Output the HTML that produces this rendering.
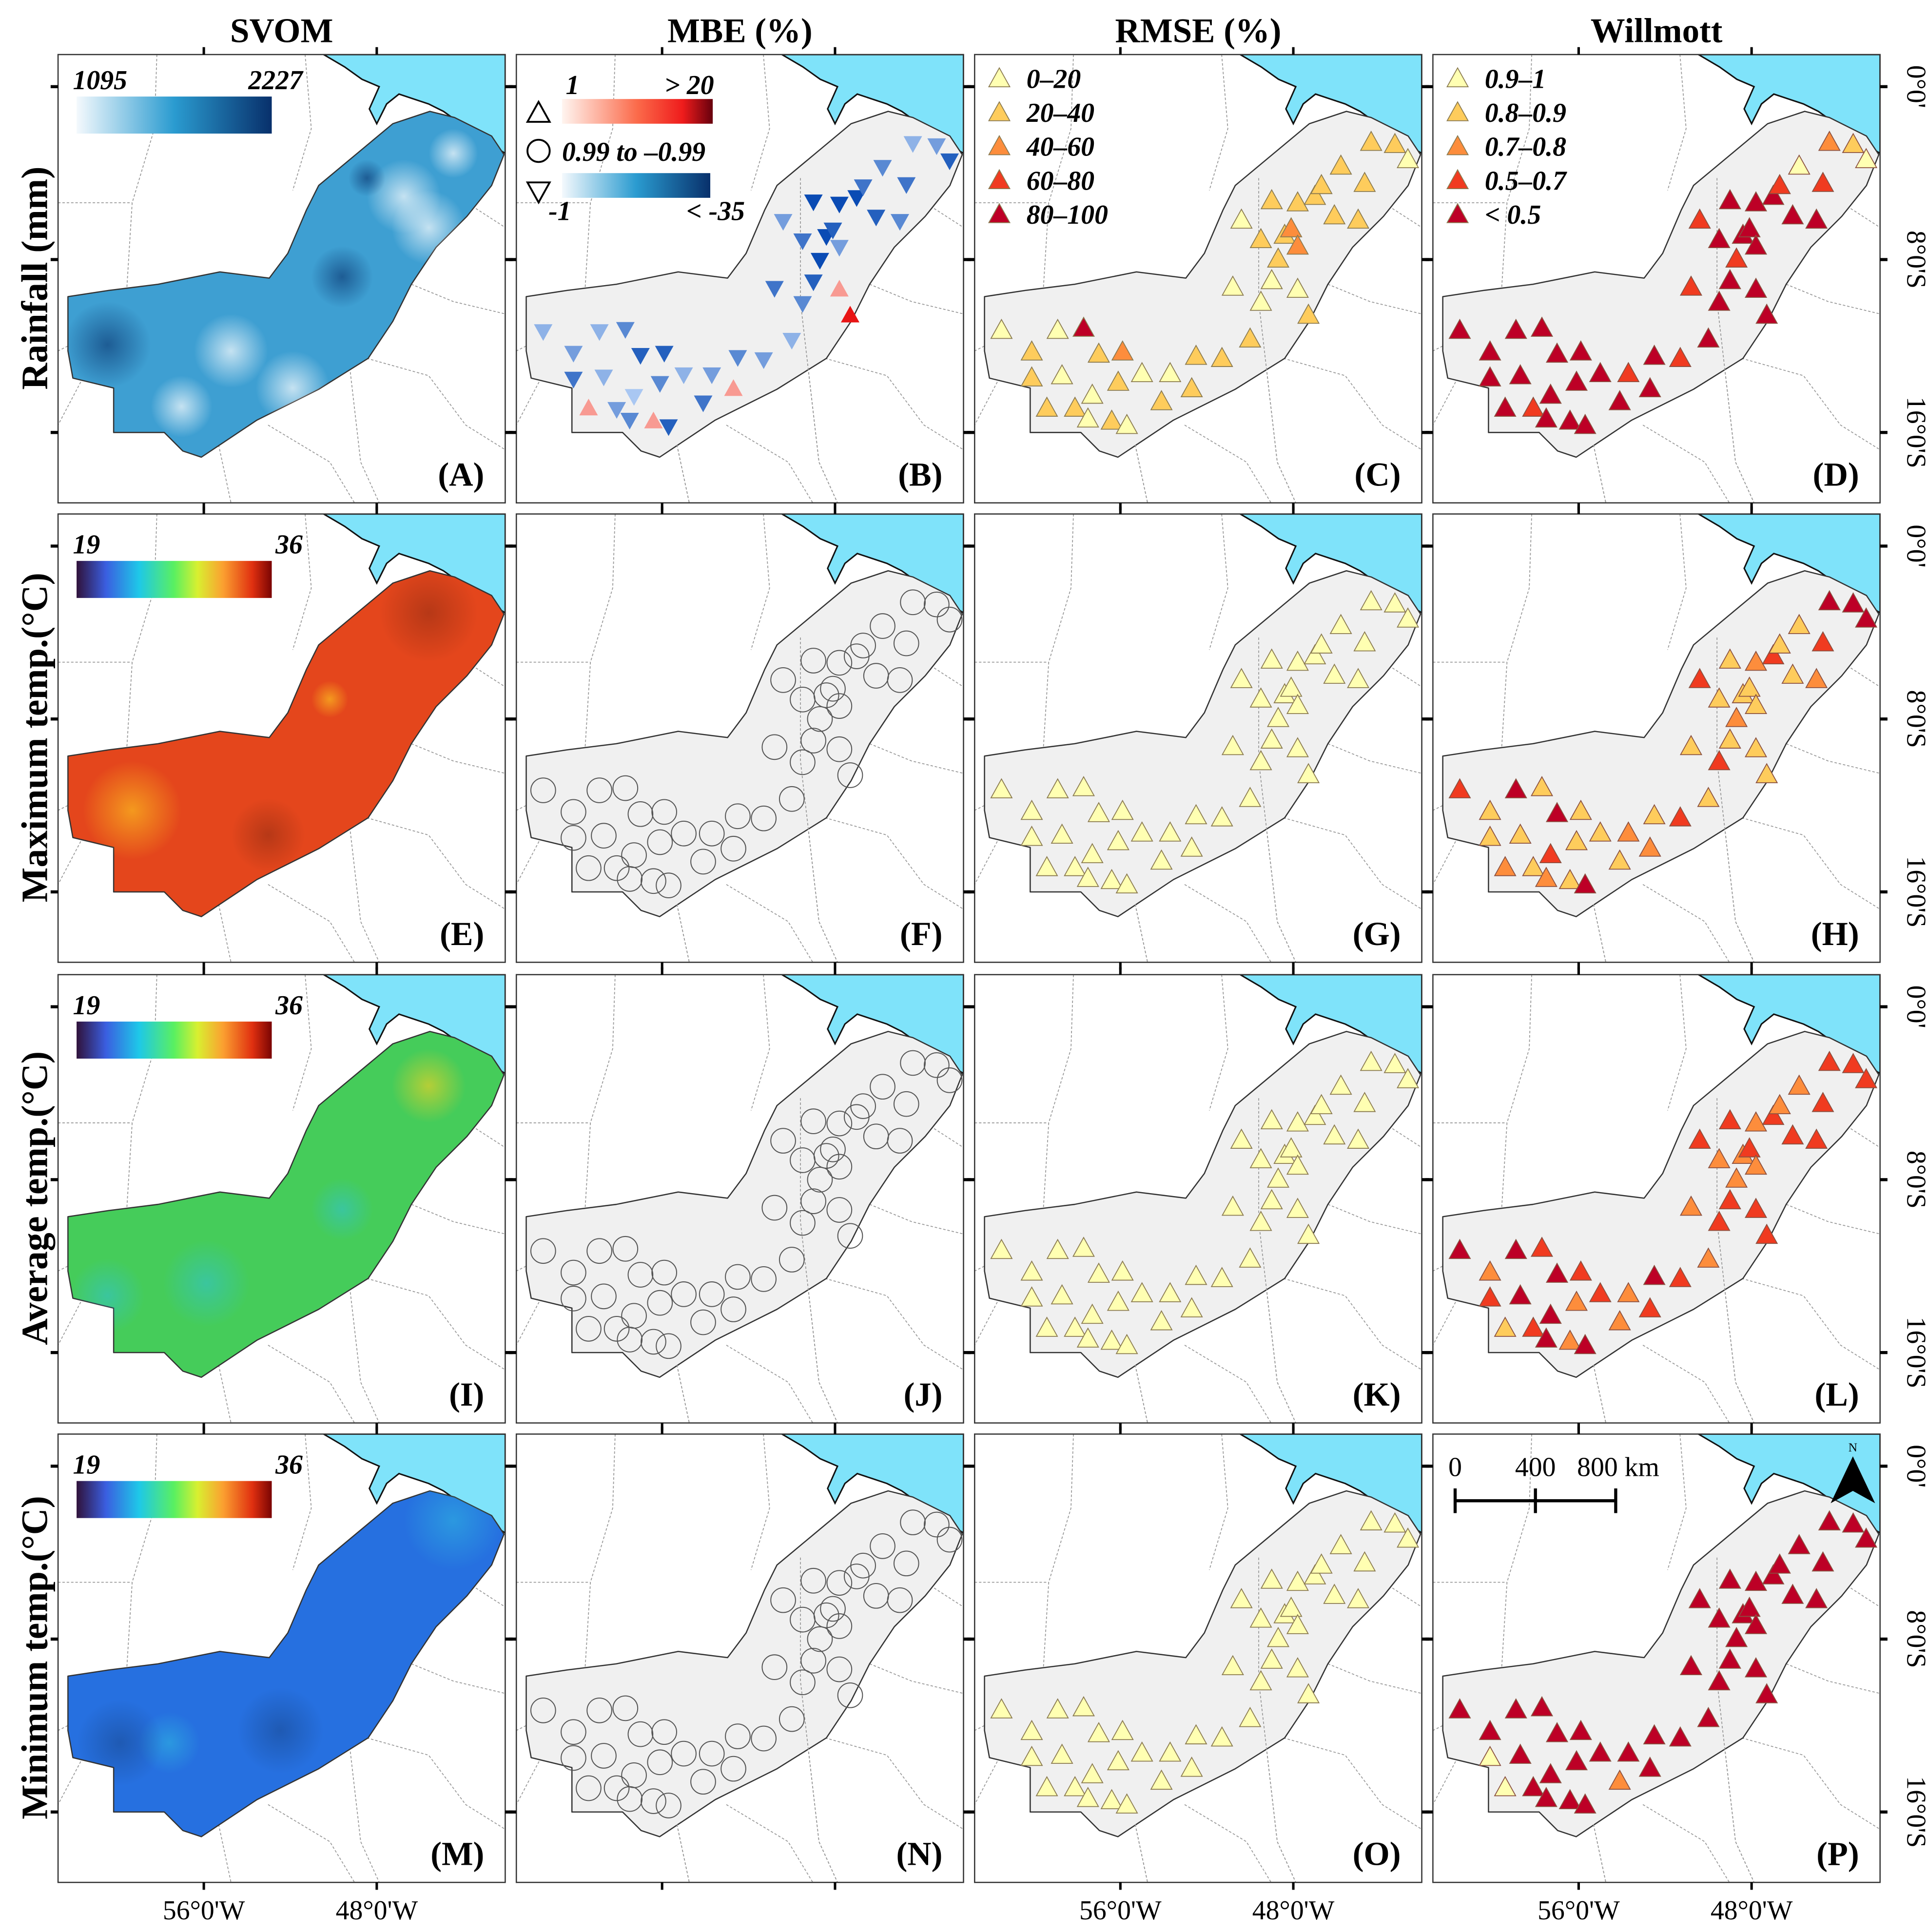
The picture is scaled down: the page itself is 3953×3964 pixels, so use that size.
<!DOCTYPE html>
<html><head><meta charset="utf-8">
<style>
html,body{margin:0;padding:0;background:#fff;}
svg{display:block;font-family:"Liberation Serif",serif;}
</style></head>
<body>
<svg id="fig" xmlns="http://www.w3.org/2000/svg" width="3953" height="3964" viewBox="0 0 1560 1564">
<defs>
<linearGradient id="gRain" x1="0" x2="1"><stop offset="0" stop-color="#f4f9fd"/><stop offset="0.5" stop-color="#2a9bd0"/><stop offset="1" stop-color="#08306b"/></linearGradient>
<linearGradient id="gRed" x1="0" x2="1"><stop offset="0" stop-color="#fff5f0"/><stop offset="0.5" stop-color="#fb6a4a"/><stop offset="0.8" stop-color="#ef1c1c"/><stop offset="1" stop-color="#67000d"/></linearGradient>
<linearGradient id="gBlue" x1="0" x2="1"><stop offset="0" stop-color="#f4f9fd"/><stop offset="0.5" stop-color="#2a9bd0"/><stop offset="1" stop-color="#08306b"/></linearGradient>
<linearGradient id="gJet" x1="0" x2="1"><stop offset="0" stop-color="#30123b"/><stop offset="0.15" stop-color="#3a5ee0"/><stop offset="0.32" stop-color="#1ec8e8"/><stop offset="0.5" stop-color="#5af060"/><stop offset="0.62" stop-color="#d8f030"/><stop offset="0.75" stop-color="#fba030"/><stop offset="0.9" stop-color="#e03010"/><stop offset="1" stop-color="#7a0403"/></linearGradient>
<radialGradient id="blobW"><stop offset="0" stop-color="#fff" stop-opacity="0.7"/><stop offset="1" stop-color="#fff" stop-opacity="0"/></radialGradient>
<radialGradient id="blobD"><stop offset="0" stop-color="#08306b" stop-opacity="0.6"/><stop offset="1" stop-color="#08306b" stop-opacity="0"/></radialGradient>
<radialGradient id="blobDark"><stop offset="0" stop-color="#000" stop-opacity="0.2"/><stop offset="1" stop-color="#000" stop-opacity="0"/></radialGradient>
<radialGradient id="blobY"><stop offset="0" stop-color="#ffd020" stop-opacity="0.6"/><stop offset="1" stop-color="#ffd020" stop-opacity="0"/></radialGradient>
<radialGradient id="blobC"><stop offset="0" stop-color="#30c0e0" stop-opacity="0.5"/><stop offset="1" stop-color="#30c0e0" stop-opacity="0"/></radialGradient>
<clipPath id="panelClip"><rect x="0" y="0" width="362" height="363"/></clipPath>
</defs>
<g id="root"></g>
</svg>
<script>
// ---- data ----
const stationLon = [61.5,60.1,58.9,57.7,60.1,59.4,58.1,58.7,57.0,55.9,56.1,57.3,57.5,56.4,55.7,55.0,54.1,53.7,52.5,52.7,51.3,50.0,50.8,49.5,49.0,48.7,48.4,49.5,50.4,49.0,47.8,48.1,47.8,47.8,47.0,46.1,45.0,44.7,44.4,43.3,42.7,45.8,46.7,47.3];
const stationLat = [11.3,12.3,11.3,11.2,13.5,14.9,14.9,13.4,12.4,12.3,13.7,14.3,15.4,15.5,15.7,13.3,14.6,13.3,12.5,14.0,12.6,11.7,9.3,10.0,9.0,8.0,6.9,7.1,6.2,5.3,5.4,6.6,7.4,9.4,5.1,6.0,6.2,4.5,2.6,2.7,3.4,3.7,4.6,10.6];
const rainMBE = [-10,-15,-10,-20,-25,5,-15,-10,-30,-30,-20,-5,-20,5,-30,-10,-25,-15,-20,5,-15,-10,-25,-20,-30,-35,-35,-25,-15,-35,-35,-30,-15,5,-35,-30,-20,-25,-10,-15,-30,-20,-25,20];
const rainRMSE = [0,1,0,4,1,1,1,0,1,2,1,0,0,1,0,0,1,0,1,1,1,1,0,0,0,1,1,1,0,1,1,2,2,0,1,1,1,1,1,1,0,1,1,1];
const rainWill = [4,4,4,4,4,4,3,4,4,4,4,4,4,4,4,4,4,3,4,4,3,4,3,4,4,3,4,4,3,4,4,4,4,4,4,4,4,3,2,1,0,0,3,4];
const tmaxWill = [3,1,4,1,1,2,1,1,4,1,1,3,2,1,4,1,1,2,1,2,3,1,1,3,1,2,1,1,3,1,2,1,1,1,3,1,2,3,4,4,4,1,1,1];
const tavgWill = [4,2,4,3,3,1,3,4,4,3,2,4,4,2,4,3,2,2,4,3,3,2,2,3,3,2,2,2,3,3,2,3,2,3,3,3,3,3,3,3,3,2,2,3];
const tminWill = [4,4,4,4,0,0,4,4,4,4,4,4,4,4,4,4,2,4,4,4,4,4,4,4,4,4,4,4,4,4,4,4,4,4,4,4,4,4,4,4,4,4,4,4];
const tempRMSE = [0,0,0,0,0,0,0,0,0,0,0,0,0,0,0,0,0,0,0,0,0,0,0,0,0,0,0,0,0,0,0,0,0,0,0,0,0,0,0,0,0,0,0,0];
const tempMBE = [0,0,0,0,0,0,0,0,0,0,0,0,0,0,0,0,0,0,0,0,0,0,0,0,0,0,0,0,0,0,0,0,0,0,0,0,0,0,0,0,0,0,0,0];
const rmseLabels = ['0–20','20–40','40–60','60–80','80–100'];
const willLabels = ['0.9–1','0.8–0.9','0.7–0.8','0.5–0.7','< 0.5'];
const latTicks = [0,8,16];
const latTickLabels = ["0°0'","8°0'S","16°0'S"];
const lonTicks = [56,48];
const lonTickLabels = ["56°0'W","48°0'W"];
const colTitles = ['SVOM','MBE (%)','RMSE (%)','Willmott'];
const rowTitles = ['Rainfall (mm)','Maximum temp.(°C)','Average temp.(°C)','Minimum  temp.(°C)'];
const svomMin = ['1095','19','19','19'];
const svomMax = ['2227','36','36','36'];
// ---- axis functions ----
const xOf = lon => 118 + (56 - lon) * 17.5;
const yOf = lat => 26 + lat * 17.5;
const catColors = ['#ffffb2','#fecc5c','#fd8d3c','#f03b20','#bd0026'];
const NS = 'http://www.w3.org/2000/svg';
function mk(tag, attrs, parent){const e=document.createElementNS(NS,tag);for(const k in attrs)e.setAttribute(k,attrs[k]);if(parent)parent.appendChild(e);return e;}
const root = document.getElementById('root');
const colX=[47,418,789,1160], rowY=[44,416,789,1161], PW=362, PH=363;
const regionPts="8,196 41,191 81,186 131,176 171,181 186,161 201,126 211,106 241,81 271,56 301,46 321,51 351,66 361,81 351,106 331,131 306,156 286,186 271,216 251,246 211,271 181,286 161,296 131,316 116,326 101,321 86,306 45,306 45,270 12,262 8,240";
const seaPath="M215,0 L362,0 L362,80 L352,74 L340,64 L326,56 L312,46 L300,40 L288,36 L276,32 L266,40 L258,56 L252,44 L260,26 L246,20 L232,10 Z";
const boundaries=["M80,0 L78,60 L60,120 L55,200","M50,200 L20,230 L0,240","M200,0 L205,60 L190,110","M0,120 L60,120","M150,180 L230,190 L250,200","M230,100 L230,200 L245,330 L260,363","M130,316 L140,363","M250,246 L300,260 L330,300 L362,320","M286,186 L320,200 L362,210","M300,100 L362,140","M170,300 L220,330 L240,363","M20,262 L0,300"];
const panelLabels=[['(A)','(B)','(C)','(D)'],['(E)','(F)','(G)','(H)'],['(I)','(J)','(K)','(L)'],['(M)','(N)','(O)','(P)']];
const svomColors=['#3e9fd2','#e4461c','#45cc5a','#2670e0'];
function tri(g,x,y,s,up,fill,stroke){const h=s*0.9;const p=up?`${x},${y-h*0.6} ${x-s/2},${y+h*0.4} ${x+s/2},${y+h*0.4}`:`${x},${y+h*0.6} ${x-s/2},${y-h*0.4} ${x+s/2},${y-h*0.4}`;return mk('polygon',{points:p,fill:fill,stroke:stroke,'stroke-width':0.7},g);}
function mbeColor(v){
  if(v>=1){const t=Math.min(1,(v-1)/19);return `rgb(${Math.round(252-20*t)},${Math.round(190-170*t)},${Math.round(180-160*t)})`;}
  const t=Math.min(1,(-v-1)/34);return `rgb(${Math.round(190-180*t)},${Math.round(215-140*t)},${Math.round(250-70*t)})`;
}
colTitles.forEach((t,i)=>{const e=mk('text',{x:colX[i]+181,y:34,'text-anchor':'middle','font-size':28,'font-weight':'bold'},root);e.textContent=t;});
rowTitles.forEach((t,i)=>{const cy=rowY[i]+181;const e=mk('text',{x:0,y:0,transform:`translate(38,${cy}) rotate(-90)`,'text-anchor':'middle','font-size':30,'font-weight':'bold'},root);e.textContent=t;});
const rmseSets=[rainRMSE,tempRMSE,tempRMSE,tempRMSE];
const willSets=[rainWill,tmaxWill,tavgWill,tminWill];
for(let r=0;r<4;r++)for(let c=0;c<4;c++){
  const g=mk('g',{transform:`translate(${colX[c]},${rowY[r]})`},root);
  
  
  const inner=mk('g',{'clip-path':'url(#panelClip)'},g);
  mk('rect',{x:0,y:0,width:PW,height:PH,fill:'#fff'},inner);
  boundaries.forEach(d=>mk('path',{d:d,fill:'none',stroke:'#999','stroke-width':0.7,'stroke-dasharray':'2,1.5'},inner));
  const sea=mk('path',{d:seaPath,fill:'#7fe3fa',stroke:'#111','stroke-width':1.2},inner);
  
  if(c===0){
    const reg=mk('polygon',{points:regionPts,fill:svomColors[r],stroke:'#333','stroke-width':1,'stroke-linejoin':'round'},inner);
    
    const cp=mk('clipPath',{id:'rc'+r},inner);mk('polygon',{points:regionPts},cp);
    const bl=mk('g',{'clip-path':`url(#rc${r})`},inner);
    if(r===0){[[280,115,30,'blobW'],[190,270,30,'blobW'],[140,240,30,'blobW'],[40,235,35,'blobD'],[250,100,15,'blobD'],[320,80,20,'blobW'],[100,285,25,'blobW'],[230,180,25,'blobD'],[300,140,30,'blobW']].forEach(b=>mk('circle',{cx:b[0],cy:b[1],r:b[2],fill:`url(#${b[3]})`},bl));}
    if(r===1){[[220,150,15,'blobY'],[300,80,40,'blobDark'],[170,260,30,'blobDark'],[60,240,40,'blobY']].forEach(b=>mk('circle',{cx:b[0],cy:b[1],r:b[2],fill:`url(#${b[3]})`},bl));}
    if(r===2){[[40,260,30,'blobC'],[120,250,35,'blobC'],[300,90,30,'blobY'],[230,190,25,'blobC']].forEach(b=>mk('circle',{cx:b[0],cy:b[1],r:b[2],fill:`url(#${b[3]})`},bl));}
    if(r===3){[[320,70,40,'blobC'],[90,250,25,'blobC'],[180,240,35,'blobDark'],[50,250,35,'blobDark']].forEach(b=>mk('circle',{cx:b[0],cy:b[1],r:b[2],fill:`url(#${b[3]})`},bl));}
  } else {
    const reg=mk('polygon',{points:regionPts,fill:'#f0f0f0',stroke:'#333','stroke-width':1,'stroke-linejoin':'round'},inner);
    
    boundaries.slice(5,7).forEach(d=>mk('path',{d:d,fill:'none',stroke:'#999','stroke-width':0.7,'stroke-dasharray':'2,1.5'},inner));
  }
  stationLon.forEach((lon,i)=>{
    const x=xOf(lon),y=yOf(stationLat[i]);let e;
    if(c===1){
      const v=(r===0?rainMBE:tempMBE)[i];
      if(v>=1) e=tri(inner,x,y,15,true,mbeColor(v),'none');
      else if(v<=-1) e=tri(inner,x,y,15,false,mbeColor(v),'none');
      else e=mk('circle',{cx:x,cy:y,r:10,fill:'none',stroke:'#555','stroke-width':0.8},inner);
    } else if(c===2){e=tri(inner,x,y,17,true,catColors[rmseSets[r][i]],'#8a7a50');}
    else if(c===3){e=tri(inner,x,y,17,true,catColors[willSets[r][i]],'#8a5040');}
    if(e){}
  });
  if(c===0){
    const cb=mk('rect',{x:15,y:r===0?34:38,width:158,height:30,fill:r===0?'url(#gRain)':'url(#gJet)'},inner);
    
    const ty=r===0?28:32;
    const a=mk('text',{x:12,y:ty,'font-size':22,'font-style':'italic','font-weight':'bold'},inner);a.textContent=svomMin[r];
    const b=mk('text',{x:198,y:ty,'font-size':22,'font-style':'italic','font-weight':'bold','text-anchor':'end'},inner);b.textContent=svomMax[r];
  }
  if(c===1&&r===0){
    tri(inner,18,48,18,true,'none','#000').setAttribute('stroke-width',1.5);
    mk('rect',{x:37,y:36,width:122,height:20,fill:'url(#gRed)'},inner);
    let t=mk('text',{x:40,y:32,'font-size':22,'font-style':'italic','font-weight':'bold'},inner);t.textContent='1';
    t=mk('text',{x:160,y:32,'font-size':22,'font-style':'italic','font-weight':'bold','text-anchor':'end'},inner);t.textContent='> 20';
    mk('circle',{cx:18,cy:78,r:9,fill:'none',stroke:'#000','stroke-width':1.5},inner);
    t=mk('text',{x:37,y:86,'font-size':22,'font-style':'italic','font-weight':'bold'},inner);t.textContent='0.99 to –0.99';
    tri(inner,18,110,18,false,'none','#000').setAttribute('stroke-width',1.5);
    mk('rect',{x:37,y:96,width:120,height:20,fill:'url(#gBlue)'},inner);
    t=mk('text',{x:26,y:134,'font-size':22,'font-style':'italic','font-weight':'bold'},inner);t.textContent='-1';
    t=mk('text',{x:185,y:134,'font-size':22,'font-style':'italic','font-weight':'bold','text-anchor':'end'},inner);t.textContent='< -35';
  }
  if((c===2||c===3)&&r===0){
    const labs=c===2?rmseLabels:willLabels;
    labs.forEach((l,k)=>{tri(inner,20,20+k*27.5,17,true,catColors[k],'#8a7a50');const t=mk('text',{x:42,y:27+k*27.5,'font-size':22,'font-style':'italic','font-weight':'bold'},inner);t.textContent=l;});
  }
  if(c===3&&r===3){
    ['0','400','800 km'].forEach((l,k)=>{const t=mk('text',{x:[18,83,150][k],y:34,'font-size':22,'text-anchor':'middle'},inner);t.textContent=l;});
    const sb=mk('path',{d:'M18,54 L148,54 M18,44 L18,64 M83,44 L83,64 M148,44 L148,64',stroke:'#000','stroke-width':2.5,fill:'none'},inner);
    
    const na=mk('polygon',{points:'340,18 322,56 340,46 358,56',fill:'#000'},inner);
    
    const nt=mk('text',{x:340,y:14,'font-size':10,'text-anchor':'middle'},inner);nt.textContent='N';
  }
  const lb=mk('text',{x:345,y:349,'font-size':27,'font-weight':'bold','text-anchor':'end'},g);lb.textContent=panelLabels[r][c];
  
  mk('rect',{x:0,y:0,width:PW,height:PH,fill:'none',stroke:'#333','stroke-width':1},g);
  latTicks.forEach(l=>{const y=yOf(l);mk('line',{x1:PW,x2:PW+6,y1:y,y2:y,stroke:'#000','stroke-width':2.5},g);mk('line',{x1:-6,x2:0,y1:y,y2:y,stroke:'#000','stroke-width':2.5},g);});
  lonTicks.forEach(l=>{const x=xOf(l);mk('line',{x1:x,x2:x,y1:-6,y2:0,stroke:'#000','stroke-width':2},g);mk('line',{x1:x,x2:x,y1:PH,y2:PH+6,stroke:'#000','stroke-width':2},g);});
  if(c===3){latTicks.forEach((l,k)=>{const y=yOf(l);const t=mk('text',{x:0,y:0,transform:`translate(${PW+22},${y}) rotate(90)`,'font-size':22,'text-anchor':'middle'},g);t.textContent=latTickLabels[k];});}
  if(r===3&&c!==1){lonTicks.forEach((l,k)=>{const t=mk('text',{x:xOf(l),y:PH+30,'font-size':22,'text-anchor':'middle'},g);t.textContent=lonTickLabels[k];});}
}
</script>
</body></html>
